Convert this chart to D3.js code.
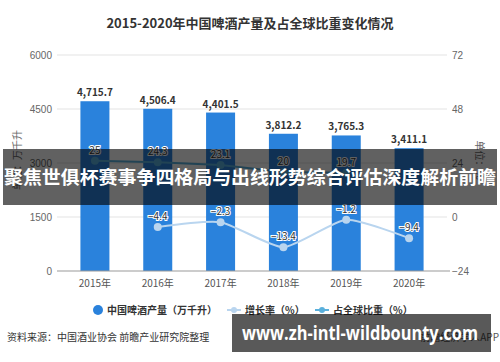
<!DOCTYPE html>
<html>
<head>
<meta charset="utf-8">
<script src="https://cdn.jsdelivr.net/npm/d3@7"></script>
<style>
  body { margin: 0; background: #fff; }
  svg { display: block; font-family: "Noto Sans CJK SC", "Noto Sans", sans-serif; }
</style>
</head>
<body>
<svg></svg>
<script>
// data
let years = ["2015年", "2016年", "2017年", "2018年", "2019年", "2020年"]
let output = [4715.7, 4506.4, 4401.5, 3812.2, 3765.3, 3411.1]
let growth = [null, -4.4, -2.3, -13.4, -1.2, -9.4]
let share = [25, 24.3, 23.1, 20, 19.7, null]
let leftTicks = [0, 1500, 3000, 4500, 6000]
let rightTicks = [-24, 0, 24, 48, 72]

let width = 500
let height = 362

let svg = d3.select("svg").attr("width", width).attr("height", height)

let xScale = d3.scalePoint().domain(years).range([63.5, 440.5]).padding(0.5)
let yLeft = d3.scaleLinear().domain([0, 6000]).range([271, 55])
let yRight = d3.scaleLinear().domain([-24, 72]).range([271, 55])

// title
svg.append("text")
    .attr("x", 250).attr("y", 28)
    .attr("text-anchor", "middle")
    .style("font-size", "13px").style("font-weight", "bold").style("fill", "#333")
    .text("2015-2020年中国啤酒产量及占全球比重变化情况")

// gridlines
svg.selectAll(".grid")
    .data(leftTicks.slice(1))
    .enter().append("line")
    .attr("x1", 57).attr("x2", 447)
    .attr("y1", d => yLeft(d)).attr("y2", d => yLeft(d))
    .style("stroke", "#e3e3e3")

// left axis
let leftAxis = svg.append("g")
    .attr("transform", "translate(54,0)")
    .call(d3.axisLeft(yLeft).tickValues(leftTicks).tickFormat(d3.format("d")).tickSize(0).tickPadding(2))
leftAxis.select(".domain").remove()
leftAxis.selectAll("text").style("font-size", "10px").style("fill", "#666").style("font-family", "inherit")

// right axis
let rightAxis = svg.append("g")
    .attr("transform", "translate(450,0)")
    .call(d3.axisRight(yRight).tickValues(rightTicks).tickFormat(d3.format("d")).tickSize(0).tickPadding(2))
rightAxis.select(".domain").remove()
rightAxis.selectAll("text").style("font-size", "10px").style("fill", "#666").style("font-family", "inherit")

// axis titles
svg.append("text")
    .attr("transform", "translate(21,160) rotate(-90)")
    .attr("text-anchor", "middle")
    .style("font-size", "10px").style("fill", "#666")
    .text("单位：万千升")
svg.append("text")
    .attr("transform", "translate(476,160) rotate(90)")
    .attr("text-anchor", "middle")
    .style("font-size", "10px").style("fill", "#666")
    .text("单位：%")

// bars
svg.selectAll(".bar")
    .data(output)
    .enter().append("rect")
    .attr("x", (d, i) => xScale(years[i]) - 14.5)
    .attr("y", d => yLeft(d))
    .attr("width", 29)
    .attr("height", d => yLeft(0) - yLeft(d))
    .style("fill", "#2a82dc")

svg.selectAll(".barlabel")
    .data(output)
    .enter().append("text")
    .attr("x", (d, i) => xScale(years[i]))
    .attr("y", d => yLeft(d) - 5)
    .attr("text-anchor", "middle")
    .style("font-size", "10px").style("font-weight", "bold").style("fill", "#333")
    .text(d => d3.format(",.1f")(d))

// x axis
svg.append("line")
    .attr("x1", 57).attr("x2", 450)
    .attr("y1", yLeft(0)).attr("y2", yLeft(0))
    .style("stroke", "#999")
svg.selectAll(".year")
    .data(years)
    .enter().append("text")
    .attr("x", d => xScale(d))
    .attr("y", 287)
    .attr("text-anchor", "middle")
    .style("font-size", "10px").style("fill", "#555")
    .text(d => d)

// lines
let drawLine = (values, color, curve) => {
    let pts = values.map((v, i) => [xScale(years[i]), v]).filter(p => p[1] != null)
    let line = d3.line().x(p => p[0]).y(p => yRight(p[1])).curve(curve)
    svg.append("path")
        .datum(pts)
        .attr("d", line)
        .style("fill", "none").style("stroke", color).style("stroke-width", 2)
    svg.selectAll(null)
        .data(pts)
        .enter().append("circle")
        .attr("cx", p => p[0]).attr("cy", p => yRight(p[1]))
        .attr("r", 4)
        .style("fill", color)
    svg.selectAll(null)
        .data(pts)
        .enter().append("text")
        .attr("x", p => p[0]).attr("y", p => yRight(p[1]) - 7)
        .attr("text-anchor", "middle")
        .style("font-size", "10px").style("fill", "#333")
        .style("stroke", "#fff").style("stroke-width", 2).style("paint-order", "stroke")
        .text(p => d3.format("")(p[1]))
}
drawLine(growth, "#b9d5ef", d3.curveCardinal.tension(0.4))
drawLine(share, "#5ab0dc", d3.curveLinear)

// legend
let legend = svg.append("g").style("font-size", "10px").style("font-weight", "bold").style("fill", "#333")
legend.append("circle").attr("cx", 98).attr("cy", 310).attr("r", 5).style("fill", "#2a82dc")
legend.append("text").attr("x", 107).attr("y", 314).text("中国啤酒产量（万千升）")
legend.append("line").attr("x1", 227).attr("x2", 241).attr("y1", 310).attr("y2", 310).style("stroke", "#b9d5ef").style("stroke-width", 2)
legend.append("circle").attr("cx", 234).attr("cy", 310).attr("r", 3).style("fill", "#b9d5ef")
legend.append("text").attr("x", 245).attr("y", 314).text("增长率（%）")
legend.append("line").attr("x1", 315).attr("x2", 329).attr("y1", 310).attr("y2", 310).style("stroke", "#5ab0dc").style("stroke-width", 2)
legend.append("circle").attr("cx", 322).attr("cy", 310).attr("r", 3).style("fill", "#5ab0dc")
legend.append("text").attr("x", 333).attr("y", 314).text("占全球比重（%）")

// footer
svg.append("text")
    .attr("x", 7).attr("y", 341)
    .style("font-size", "10px").style("fill", "#333")
    .text("资料来源：中国酒业协会 前瞻产业研究院整理")
svg.append("text")
    .attr("x", 499).attr("y", 341)
    .attr("text-anchor", "end")
    .style("font-size", "10px").style("fill", "#555")
    .text("前瞻经济学人APP")

// overlay banners
svg.append("rect")
    .attr("x", 3).attr("y", 149).attr("width", 494).attr("height", 56)
    .style("fill", "#000").style("opacity", 0.62)
svg.append("text")
    .attr("x", 4).attr("y", 184)
    .attr("textLength", 492).attr("lengthAdjust", "spacingAndGlyphs")
    .style("font-size", "18.5px").style("font-weight", "bold").style("fill", "#fff")
    .text("聚焦世俱杯赛事争四格局与出线形势综合评估深度解析前瞻")

svg.append("rect")
    .attr("x", 232).attr("y", 314).attr("width", 259).attr("height", 38)
    .style("fill", "#000").style("opacity", 0.65)
svg.append("text")
    .attr("x", 242).attr("y", 340)
    .attr("textLength", 236).attr("lengthAdjust", "spacingAndGlyphs")
    .style("font-size", "19px").style("font-weight", "bold").style("fill", "#fff")
    .style("font-family", "'Open Sans', 'Noto Sans', sans-serif")
    .text("www.zh-intl-wildbounty.com")
</script>
</body>
</html>
